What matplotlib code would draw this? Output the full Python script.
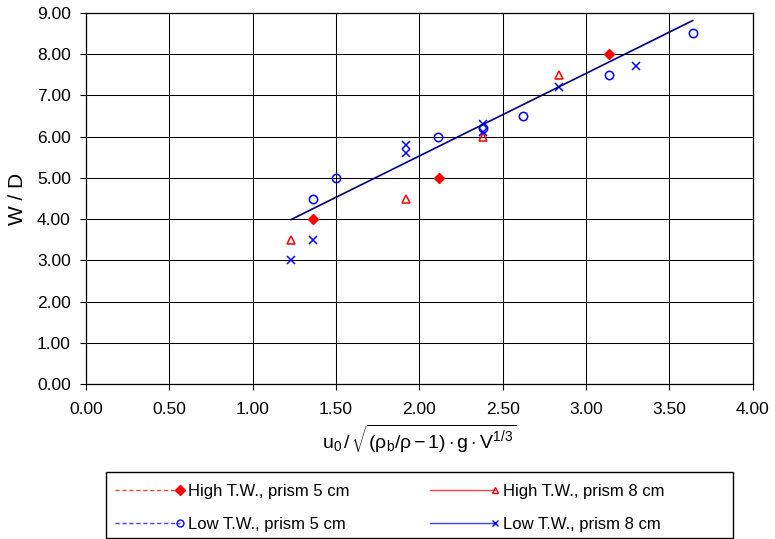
import numpy as np
import matplotlib
matplotlib.use('Agg')
import matplotlib.pyplot as plt
from matplotlib.lines import Line2D
from matplotlib.patches import Rectangle
from matplotlib.legend_handler import HandlerLine2DCompound
from matplotlib.ticker import FormatStrFormatter

plt.rcParams['font.family'] = ['Liberation Sans', 'DejaVu Sans']
plt.rcParams['mathtext.fontset'] = 'custom'
plt.rcParams['mathtext.rm'] = 'Liberation Sans'
plt.rcParams['mathtext.it'] = 'Liberation Sans'
plt.rcParams['mathtext.bf'] = 'Liberation Sans:bold'

# data
high5_x = [1.36, 2.12, 3.14]
high5_y = [4.0, 5.0, 8.0]
high8_x = [1.23, 1.92, 2.38, 2.84]
high8_y = [3.5, 4.5, 6.0, 7.5]
low5_x = [1.36, 1.50, 2.11, 2.38, 2.62, 3.14, 3.64]
low5_y = [4.5, 5.0, 6.0, 6.2, 6.5, 7.5, 8.5]
low8_x = [1.23, 1.36, 1.92, 1.92, 2.38, 2.38, 2.84, 3.30]
low8_y = [3.0, 3.5, 5.8, 5.6, 6.3, 6.1, 7.2, 7.7]

# trend line as drawn on the chart
fit_slope = 2.0
fit_intercept = 1.53

labels = ['High T.W., prism 5 cm', 'High T.W., prism 8 cm',
          'Low T.W., prism 5 cm', 'Low T.W., prism 8 cm']


class EndMarker(HandlerLine2DCompound):
    # legend line with its marker sitting at the right end
    def get_xdata(self, legend, xdescent, ydescent, width, height, fontsize):
        xdata = np.array([-xdescent, -xdescent + width])
        return xdata, np.array([xdata[-1]])


fig = plt.figure(figsize=(7.75, 5.39), dpi=100)
ax = fig.add_axes([0.111, 0.287, 0.8602, 0.6894])

ax.plot(high5_x, high5_y, ls='none', marker='D', ms=5.5, color='red', mec='red')
ax.plot(high8_x, high8_y, ls='none', marker='^', ms=6, mfc='none', mec='red', mew=1.1)
ax.plot(low5_x, low5_y, ls='none', marker='o', ms=6, mfc='none', mec='blue', mew=1.1)
ax.plot(low8_x, low8_y, ls='none', marker='x', ms=6, color='blue', mew=1.1)

all_x = np.array(high5_x + high8_x + low5_x + low8_x)
xs = np.array([all_x.min(), all_x.max()])
ax.plot(xs, fit_slope * xs + fit_intercept, color='#000080', lw=1.2)

ax.set_xlim(0, 4)
ax.set_ylim(0, 9)
ax.set_xticks(np.arange(0, 4.01, 0.5))
ax.set_yticks(np.arange(0, 9.01, 1))
ax.xaxis.set_major_formatter(FormatStrFormatter('%.2f'))
ax.yaxis.set_major_formatter(FormatStrFormatter('%.2f'))
ax.tick_params(direction='out', length=4, width=0.8, labelsize=12.5)
ax.tick_params(axis='x', pad=9)
ax.tick_params(axis='y', pad=7)
ax.grid(True, color='black', lw=0.75)
for s in ax.spines.values():
    s.set_linewidth(0.9)

ax.set_ylabel('W / D', fontsize=15, labelpad=7)
ax.set_xlabel(r'$\mathrm{u_0}\,/\,\sqrt{(\mathrm{\rho_b}/\mathrm{\rho}\,\mathrm{-}\,1)\cdot \mathrm{g}\cdot \mathrm{V^{1/3}}}$',
              fontsize=14, labelpad=4)

handles = [
    Line2D([], [], color='#ff4040', ls=(0, (3, 2)), lw=1.0, marker='D', ms=5.5, mfc='red', mec='red'),
    Line2D([], [], color='#ff4040', ls='-', lw=1.0, marker='^', ms=5, mfc='none', mec='red'),
    Line2D([], [], color='#4040ff', ls=(0, (3, 2)), lw=1.0, marker='o', ms=5, mfc='none', mec='blue'),
    Line2D([], [], color='#4040ff', ls='-', lw=1.0, marker='x', ms=5, mec='blue'),
]
order = [0, 2, 1, 3]
leg = fig.legend([handles[i] for i in order], [labels[i] for i in order],
                 ncol=2, loc='upper left', bbox_to_anchor=(115 / 775, 1 - 484 / 539),
                 fontsize=12, frameon=False, borderpad=0, borderaxespad=0,
                 handlelength=3.9, handletextpad=0.5, columnspacing=4.8,
                 labelspacing=1.05,
                 handler_map={Line2D: EndMarker(numpoints=1)})

# legend frame as in the reference (wider than its content)
fig.patches.append(Rectangle((105.5 / 775, 0.002), (733 - 105.5) / 775, (538 - 472) / 539,
                             transform=fig.transFigure, fill=False,
                             edgecolor='black', lw=1.0))

fig.savefig('out.png', dpi=100)
